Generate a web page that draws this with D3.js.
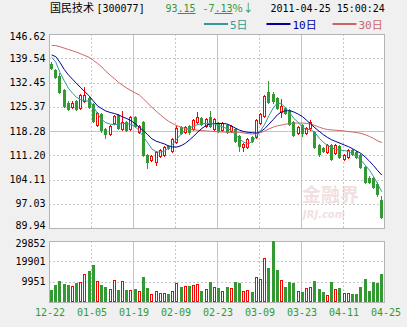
<!DOCTYPE html>
<html><head><meta charset="utf-8">
<script src="https://cdn.jsdelivr.net/npm/d3@7"></script>
<style>
html,body{margin:0;padding:0;background:#f0f0f0;}
svg{display:block;}
</style></head><body>
<svg id="c" width="407" height="327"></svg>
<script>
// ---------- data ----------
const xLabels = ["12-22","01-05","01-19","02-09","02-23","03-09","03-23","04-11","04-25"];
const priceTicks = [146.62,139.54,132.45,125.37,118.28,111.20,104.11,97.03,89.94];
const volTicks = [29852,19901,9951];

const open = [138.0,136.1,134.4,130.3,126.6,125.4,127.1,125.0,127.1,127.9,
126.2,120.1,123.2,118.9,117.4,120.5,122.9,118.9,120.8,118.9,
122.5,117.9,120.8,111.3,109.8,109.1,110.9,111.3,114.0,112.4,
115.0,119.4,117.9,119.6,118.9,120.8,122.0,119.8,122.4,118.9,
120.5,118.6,120.1,118.4,118.9,116.9,113.5,113.5,116.4,116.4,
120.6,122.7,129.6,129.2,127.8,123.9,125.1,124.4,121.0,117.6,
120.0,117.8,119.1,118.1,114.2,113.2,112.2,114.2,111.9,113.9,
110.0,110.6,112.7,112.2,111.3,107.8,104.5,104.5,102.8,98.1];
const close = [136.7,134.2,129.6,125.7,124.7,126.6,124.7,128.8,128.9,125.2,
121.3,123.4,118.7,117.4,119.8,122.7,119.1,120.8,118.7,122.5,
119.8,119.8,111.3,109.1,111.0,112.1,112.7,113.7,113.2,115.9,
119.3,117.6,119.4,118.0,121.5,122.3,120.3,121.8,119.8,121.8,
118.4,120.5,117.9,119.8,115.3,114.0,114.5,115.9,115.3,121.5,
123.2,128.6,126.7,127.1,125.1,125.6,123.6,120.4,117.1,119.4,
117.6,119.1,121.0,113.7,111.5,112.5,114.2,110.0,114.2,110.6,
111.3,112.7,111.6,110.8,107.8,103.5,103.5,102.0,99.8,93.2];
const high = [138.4,136.4,135.1,130.6,127.0,126.9,127.4,129.1,131.2,128.2,
126.5,123.7,123.5,119.2,120.1,123.0,123.2,124.2,121.1,122.8,
122.8,120.1,121.1,111.6,111.3,112.4,113.0,114.0,114.3,116.2,
119.6,119.7,119.7,120.0,121.8,123.7,122.3,122.1,124.2,122.1,
120.8,120.8,120.4,120.1,119.2,117.2,114.8,116.2,116.7,121.8,
123.5,128.9,133.0,129.6,128.1,127.5,125.4,124.7,121.3,119.7,
120.3,119.4,121.6,118.4,114.5,113.5,114.5,114.5,114.5,114.2,
111.6,113.0,113.0,112.5,111.6,108.1,105.0,104.8,103.3,99.3];
const low = [136.3,133.9,129.3,125.3,124.3,125.1,124.4,124.7,126.8,124.9,
120.9,119.8,117.9,116.2,117.1,120.2,118.8,118.6,118.4,118.6,
119.5,117.6,111.0,107.6,109.5,108.3,110.6,111.0,112.9,112.1,
114.7,117.3,117.6,117.4,118.6,120.5,120.0,119.5,119.5,118.6,
118.1,118.3,117.6,118.1,115.0,112.5,112.5,113.2,115.0,116.1,
120.3,122.4,126.4,126.6,124.8,122.5,123.3,120.1,116.8,117.3,
116.9,117.5,118.7,113.4,111.0,112.2,111.9,109.7,111.6,110.3,
109.7,110.3,111.3,110.5,107.5,103.2,103.0,101.7,99.4,92.9];
const volume = [5873,8320,10277,8809,8320,7830,9445,9788,13703,15318,
18108,10277,8320,7194,6215,10767,5873,10277,5873,5873,
6362,5383,12382,6998,3915,5383,4551,4551,3915,5383,
9445,7488,7830,7830,8320,8809,5383,6215,9641,7488,
6705,5383,7194,6705,9641,9152,5383,5873,4747,12088,
11109,21387,16493,29852,15661,10767,7194,9641,9445,5383,
4747,6705,7194,10277,6362,5041,3426,9641,6362,6705,
4551,4551,3915,3915,7194,11109,5383,9641,9445,13703];
const ma5 = [139.8,138.4,135.4,133.0,130.8,129.3,128.1,127.4,127.1,127.0,
125.4,123.3,121.6,120.7,120.3,120.1,120.3,120.5,120.4,120.2,
119.5,118.3,116.5,114.8,113.0,112.2,112.1,112.4,113.4,114.5,
116.0,117.4,118.5,119.2,119.7,120.2,120.4,120.5,120.5,120.3,
119.9,119.4,119.0,118.4,117.1,115.9,115.0,114.5,115.2,116.7,
118.4,120.3,122.8,125.0,126.5,126.2,125.0,123.5,121.9,120.8,
119.4,118.7,118.7,117.8,116.2,115.0,114.0,113.4,112.9,112.7,
112.6,112.3,111.6,110.8,109.8,108.3,106.9,105.0,102.8,100.5];
const ma10 = [140.5,140.0,138.3,136.3,134.7,133.4,132.1,130.9,129.7,128.5,
127.0,125.6,124.8,124.1,123.7,123.4,123.0,122.4,121.9,121.3,
120.4,119.3,118.3,117.2,116.0,115.3,114.9,114.5,113.9,113.6,
113.6,114.0,114.7,115.7,116.8,118.0,119.1,119.9,120.4,120.5,
120.5,120.5,120.3,119.8,119.1,118.5,118.1,117.9,117.8,117.7,
118.1,119.0,120.3,121.6,123.0,123.9,124.2,124.2,123.8,123.2,
122.5,121.4,120.3,119.2,118.2,117.2,116.4,115.7,115.2,114.7,
114.2,113.7,113.1,112.4,111.7,110.7,109.5,108.2,106.7,105.4];
const ma30 = [143.3,143.2,142.9,142.5,142.1,141.7,141.3,140.8,140.3,139.8,
138.9,138.0,137.0,135.7,134.6,133.6,132.5,131.6,130.8,130.1,
129.4,128.8,127.6,126.4,125.2,124.1,123.0,122.0,121.1,120.4,
119.8,119.4,119.0,118.7,118.6,118.5,118.4,118.3,118.2,118.1,
118.0,118.0,117.9,117.9,117.9,117.9,117.7,117.5,117.4,117.5,
117.8,118.3,118.9,119.4,119.8,120.0,120.3,120.4,120.6,120.6,
120.6,120.5,120.3,119.9,119.4,119.0,118.7,118.6,118.5,118.4,
118.3,118.1,118.0,117.8,117.6,117.2,116.7,116.1,115.4,114.9];

// ---------- drawing ----------
const GREEN="#339933", RED="#ff0000", C5="#339999", C10="#000099", C30="#cc6666";
const MONO="'DejaVu Sans Mono', monospace";
const CJK="'DejaVu Sans Mono','Noto Sans CJK SC',sans-serif";
const svg=d3.select("#c");
const L=49, R=385, T=34, B=228, VT=241, VB=302;

const y=d3.scaleLinear().domain([89.94,146.62]).range([B,T]);
const yv=d3.scaleLinear().domain([0,29852]).range([VB,VT]);
const x=d3.scaleBand().domain(d3.range(open.length)).range([50,383.5]).paddingInner(0.22).paddingOuter(0);
const xg=d3.scalePoint().domain(xLabels).range([L,R]);
const px=v=>Math.round(v);

// panels
svg.append("rect").attr("x",L+0.5).attr("y",T+0.5).attr("width",335).attr("height",B-T).attr("fill","#fff");
svg.append("rect").attr("x",L+0.5).attr("y",VT+0.5).attr("width",335).attr("height",VB-VT).attr("fill","#fff");

// watermark
const wm=svg.append("g").attr("opacity",0.55);
wm.append("text").attr("x",302).attr("y",202).attr("font-family","'Noto Sans CJK SC'").attr("font-weight","bold")
  .attr("font-size",19).attr("fill","#e6c8c8").text("金融界");
wm.append("text").attr("x",303).attr("y",218).attr("font-family","'DejaVu Sans'").attr("font-weight","bold").attr("font-style","italic")
  .attr("font-size",10).attr("fill","#e6c8c8").text("JRJ.com");

// grid
const grid=svg.append("g").attr("shape-rendering","crispEdges");
priceTicks.slice(1,-1).forEach((t,k)=>{
  grid.append("line").attr("x1",L).attr("x2",R).attr("y1",px(y(t))+0.5).attr("y2",px(y(t))+0.5)
    .attr("stroke",k===3?"#c4c4c4":"#c8c8c8").attr("stroke-dasharray",k===3?null:"2,2");
});
volTicks.slice(1).forEach(t=>{
  grid.append("line").attr("x1",L).attr("x2",R).attr("y1",px(yv(t))+0.5).attr("y2",px(yv(t))+0.5)
    .attr("stroke","#c8c8c8").attr("stroke-dasharray","2,2");
});
xLabels.slice(1,-1).forEach((lab,k)=>{
  const xx=px(xg(lab))+0.5, dashed=(k%2===0);
  [[T,B],[VT,VB]].forEach(([a,b])=>{
    grid.append("line").attr("x1",xx).attr("x2",xx).attr("y1",a).attr("y2",b)
      .attr("stroke",dashed?"#c8c8c8":"#c4c4c4").attr("stroke-dasharray",dashed?"2,2":null);
  });
});
// borders
svg.append("rect").attr("x",L+0.5).attr("y",T+0.5).attr("width",335).attr("height",B-T)
  .attr("fill","none").attr("stroke","#b4b4b4").attr("shape-rendering","crispEdges");
svg.append("rect").attr("x",L+0.5).attr("y",VT+0.5).attr("width",335).attr("height",VB-VT)
  .attr("fill","none").attr("stroke","#b4b4b4").attr("shape-rendering","crispEdges");

// candles
const idx=d3.range(open.length);
const cg=svg.append("g").attr("shape-rendering","crispEdges");
const candle=cg.selectAll("g").data(idx).join("g");
candle.append("line")
  .attr("x1",i=>px(x(i))+1.5).attr("x2",i=>px(x(i))+1.5)
  .attr("y1",i=>px(y(high[i]))).attr("y2",i=>px(y(low[i]))+1)
  .attr("stroke",i=>close[i]>=open[i]?RED:GREEN);
candle.append("rect")
  .attr("x",i=>close[i]>=open[i]?px(x(i))+0.5:px(x(i)))
  .attr("y",i=>close[i]>=open[i]?px(y(close[i]))+0.5:px(y(open[i])))
  .attr("width",i=>close[i]>=open[i]?2:3)
  .attr("height",i=>{const h=Math.abs(px(y(close[i]))-px(y(open[i])));return close[i]>=open[i]?Math.max(1,h):Math.max(1,h+1);})
  .attr("fill",i=>close[i]>=open[i]?"#fff":GREEN)
  .attr("stroke",i=>close[i]>=open[i]?RED:"none");

// moving averages
const clipId="clipMain";
svg.append("clipPath").attr("id",clipId).append("rect").attr("x",L+1).attr("y",T+1).attr("width",R-L-2).attr("height",B-T-1);
const lg=svg.append("g").attr("clip-path",`url(#${clipId})`);
[[ma30,C30],[ma10,C10],[ma5,C5]].forEach(([arr,col])=>{
  const line=d3.line().x((d,i)=>x(i)+x.bandwidth()/2).y(d=>y(d));
  lg.append("path").attr("d",line(arr)).attr("fill","none").attr("stroke",col).attr("stroke-width",1);
});

// volume bars
const vg=svg.append("g").attr("shape-rendering","crispEdges");
vg.selectAll("rect").data(idx).join("rect")
  .attr("x",i=>close[i]>=open[i]?px(x(i))+0.5:px(x(i)))
  .attr("y",i=>close[i]>=open[i]?px(yv(volume[i]))+0.5:px(yv(volume[i])))
  .attr("width",i=>close[i]>=open[i]?2:3)
  .attr("height",i=>close[i]>=open[i]?(VB-px(yv(volume[i]))-1):(VB-px(yv(volume[i]))))
  .attr("fill",i=>close[i]>=open[i]?"#fff":GREEN)
  .attr("stroke",i=>close[i]>=open[i]?RED:"none");

// axes
const ya=svg.append("g").attr("transform","translate(45.5,0)")
  .call(d3.axisLeft(y).tickValues(priceTicks).tickFormat(d3.format(".2f")).tickSize(0).tickPadding(0));
ya.select(".domain").remove();
ya.selectAll("text").attr("font-family",MONO).attr("font-size",10).attr("fill","#000")
  .attr("y",d=>d===146.62?2:(d===89.94?-3:0));

const va=svg.append("g").attr("transform","translate(45.5,0)")
  .call(d3.axisLeft(yv).tickValues(volTicks).tickFormat(d3.format("d")).tickSize(0).tickPadding(0));
va.select(".domain").remove();
va.selectAll("text").attr("font-family",MONO).attr("font-size",10).attr("fill","#000")
  .attr("y",d=>d===29852?2:0);

const xa=svg.append("g").attr("transform",`translate(0.5,${VB})`)
  .call(d3.axisBottom(xg).tickSize(0).tickPadding(7));
xa.select(".domain").remove();
xa.selectAll("text").attr("font-family",MONO).attr("font-size",10).attr("fill",GREEN);

// header
const hd=svg.append("text").attr("y",12).attr("fill","#000");
hd.append("tspan").attr("x",50).attr("font-family","'Noto Sans CJK SC'").attr("font-size",11).text("国民技术");
hd.append("tspan").attr("x",96.5).attr("font-family",MONO).attr("font-size",10).text("[300077]");
const pr=svg.append("text").attr("x",165.5).attr("y",12).attr("fill",GREEN).attr("font-family",MONO).attr("font-size",10);
pr.append("tspan").text("93");
pr.append("tspan").attr("text-decoration","underline").text(".15");
const ch=svg.append("text").attr("x",202.5).attr("y",12).attr("fill",GREEN).attr("font-family",CJK).attr("font-size",10);
ch.append("tspan").text("-7");
ch.append("tspan").attr("text-decoration","underline").text(".13");
ch.append("tspan").attr("font-family","'Noto Sans CJK SC'").attr("font-size",11).text("%↓");
svg.append("text").attr("x",270.5).attr("y",12).attr("fill","#000").attr("font-family",MONO).attr("font-size",10)
  .text("2011-04-25 15:00:24");

// legend
const legend=[["5日",C5,204,230],["10日",C10,266.5,292.5],["30日",C30,332.5,358.5]];
legend.forEach(([t,c,lx,tx])=>{
  svg.append("line").attr("x1",lx).attr("x2",lx+24).attr("y1",24).attr("y2",24).attr("stroke",c).attr("stroke-width",2);
  svg.append("text").attr("x",tx).attr("y",28.5).attr("fill",c).attr("font-family",CJK).attr("font-size",11).text(t);
});
</script>
</body></html>
